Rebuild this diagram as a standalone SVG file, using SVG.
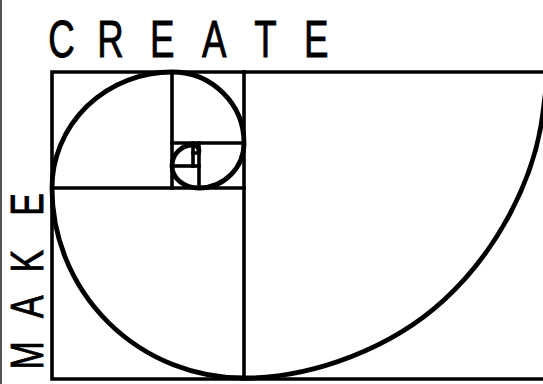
<svg xmlns="http://www.w3.org/2000/svg" width="543" height="384" viewBox="0 0 543 384">
  <style>
    .ln { fill: none; stroke: #000; stroke-width: 3.6; stroke-linecap: square; }
    .sp { fill: none; stroke: #000; stroke-width: 4.8; stroke-linecap: round; }
    .lbl { font-family: "Liberation Sans", Arial, sans-serif; fill: #000; stroke: #000; stroke-width: 0.9; }
  </style>
  <rect x="0" y="0" width="543" height="384" fill="#fff"/>
  <rect x="0" y="0" width="2" height="384" fill="#555"/>
  <g id="title-create">
    <text class="lbl" font-size="51" transform="scale(0.72 1)" x="66.9 135 208.5 280.6 353 422.4" y="57">CREATE</text>
  </g>
  <g id="title-make">
    <text class="lbl" font-size="47" transform="rotate(-90) scale(0.72 1)" x="-513.2 -441.7 -378.5 -299.6" y="43">MAKE</text>
  </g>
  <g id="grid">
    <path class="ln" d="M560,72 H52 V379 H560"/>
    <path class="ln" d="M244,72 V379"/>
    <path class="ln" d="M52,188 H244"/>
    <path class="ln" d="M172,72 V188"/>
    <path class="ln" d="M172,143 H244"/>
    <path class="ln" d="M199,143 V188"/>
    <path class="ln" d="M172,166 H199"/>
    <path class="ln" d="M193,143 V166"/>
    <path class="ln" d="M193,153 H199"/>
  </g>
  <g id="spiral">
    <path class="sp" d="M548,72 C547,80 546,87 543,112 C534.7,181.5 495.5,252.6 444,300 C392.5,347.4 314,378 244,378 A192,190 0 0 1 52,188 A120,116 0 0 1 172,72 A72,71 0 0 1 244,143 A45,45 0 0 1 199,188 A27,22 0 0 1 172,166 A21,21 0 0 1 193,145 A6,6 0 0 1 199,151"/>
  </g>
</svg>
